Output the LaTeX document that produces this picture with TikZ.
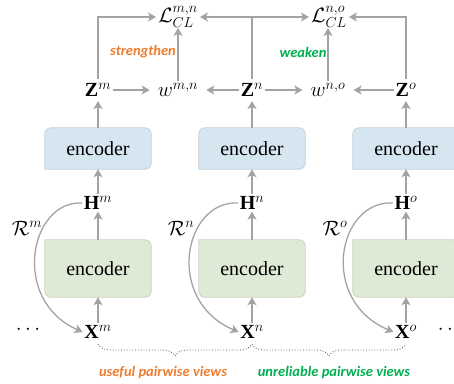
\documentclass[tikz,border=0pt]{standalone}
\usepackage{fontspec}
\setmainfont{Liberation Serif}
\newfontfamily\tagfont{Carlito}
\usetikzlibrary{arrows.meta,decorations.pathreplacing,calc}
\definecolor{linegray}{HTML}{A3A3A3}
\definecolor{bluefill}{HTML}{D6E6F1}
\definecolor{blueedge}{HTML}{C2D0DA}
\definecolor{greenfill}{HTML}{DEEAD5}
\definecolor{greenedge}{HTML}{C9D4BF}
\definecolor{tagorange}{HTML}{ED7D31}
\definecolor{taggreen}{HTML}{00B050}
\definecolor{bracegray}{HTML}{404040}
\begin{document}
\begin{tikzpicture}[x=1pt,y=-1pt,
  plain/.style={draw=linegray, line width=1.5pt},
  conn/.style={plain, -{Stealth[length=8pt,width=9pt,inset=2pt]}},
  mathtxt/.style={font=\fontsize{20}{24}\selectfont, inner sep=1.5pt},
  weight/.style={mathtxt, inner xsep=8pt},
  loss/.style={mathtxt, inner xsep=2pt, inner ysep=0.5pt},
  enc/.style={font=\fontsize{20}{24}\selectfont, minimum width=106pt, inner sep=0pt},
  upper/.style={enc, minimum height=41pt},
  lower/.style={enc, minimum height=57pt},
  tag/.style={font=\tagfont\bfseries\itshape\fontsize{14.5}{17}\selectfont},
  bracket/.style={draw=bracegray, line width=0.8pt, dotted, decorate,
    decoration={brace, amplitude=12pt, mirror}}]
\useasboundingbox (0,0) rectangle (454,383);

% encoder boxes (drawn first, text on top)
\node[upper] (em) at (98,148.5) {};
\node[upper] (en) at (252,148.5) {};
\node[upper] (eo) at (406,148.5) {};
\node[lower] (gm) at (98,268.5) {};
\node[lower] (gn) at (252,268.5) {};
\node[lower] (go) at (406,268.5) {};
\foreach \b in {em,en,eo}
  \filldraw[fill=bluefill, draw=blueedge, line width=0.8pt]
    (\b.south west) [rounded corners=6pt] -- (\b.north west) -- (\b.north east)
    -- (\b.south east) [sharp corners] -- cycle;
\foreach \b in {gm,gn,go}
  \filldraw[fill=greenfill, draw=greenedge, line width=0.8pt]
    (\b.north west) [rounded corners=6pt] -- (\b.south west) -- (\b.south east)
    -- (\b.north east) [sharp corners] -- cycle;
\foreach \b in {em,en,eo,gm,gn,go}
  \node[enc] (t\b) at (\b) {encoder};

% inputs, hidden and projected views
\node[mathtxt] (Xm) at (98,332) {$\mathbf{X}^m$};
\node[mathtxt] (Xn) at (252,332) {$\mathbf{X}^n$};
\node[mathtxt] (Xo) at (406,332) {$\mathbf{X}^o$};
\node[mathtxt] (Hm) at (98,203) {$\mathbf{H}^m$};
\node[mathtxt] (Hn) at (252,203) {$\mathbf{H}^n$};
\node[mathtxt] (Ho) at (406,203) {$\mathbf{H}^o$};
\node[mathtxt, inner ysep=4pt] (Zm) at (98,90) {$\mathbf{Z}^m$};
\node[mathtxt, inner ysep=4pt] (Zn) at (252,90) {$\mathbf{Z}^n$};
\node[mathtxt, inner ysep=4pt] (Zo) at (406,90) {$\mathbf{Z}^o$};
\node[weight] (wmn) at (178,90) {$w^{m,n}$};
\node[weight] (wno) at (328,90) {$w^{n,o}$};
\node[loss] (Lmn) at (178,17) {$\mathcal{L}_{CL}^{m,n}$};
\node[loss] (Lno) at (329,17) {$\mathcal{L}_{CL}^{n,o}$};

\node[mathtxt] (Rm) at (27,228) {$\mathcal{R}^m$};
\node[mathtxt] (Rn) at (181,228) {$\mathcal{R}^n$};
\node[mathtxt] (Ro) at (335,228) {$\mathcal{R}^o$};
\node[mathtxt] (dl) at (28,330) {$\cdots$};
\node[mathtxt] (dr) at (450,330) {$\cdots$};

% vertical flow
\foreach \c in {m,n,o} {
  \draw[conn] (X\c) -- (g\c.south);
  \draw[conn] (g\c.north) -- (H\c);
  \draw[conn] (H\c) -- (e\c.south);
  \draw[conn] (e\c.north) -- (Z\c);
}
% recovery curves
\draw[conn, line width=1.3pt] (Hm.west) .. controls (30,200) and (10,300) .. (Xm.west);
\draw[conn, line width=1.3pt] (Hn.west) .. controls (184,200) and (164,300) .. (Xn.west);
\draw[conn, line width=1.3pt] (Ho.west) .. controls (338,200) and (318,300) .. (Xo.west);

% pairwise weights
\draw[conn] (Zm) -- (wmn);
\draw[conn] (Zn) -- (wmn);
\draw[conn] (Zn) -- (wno);
\draw[conn] (Zo) -- (wno);
\draw[conn] (wmn.north) -- (wmn.north |- Lmn.south);
\draw[conn] (wno.north) -- (wno.north |- Lno.south);

% contrastive losses
\coordinate (split) at (Zn.north |- Lmn.east);
\draw[conn] (Zm.north) |- (Lmn.west);
\draw[plain] (Zn.north) -- (split);
\draw[conn] (split) -- (Lmn.east);
\draw[conn] (split) -- (Lno.west);
\draw[conn] (Zo.north) |- (Lno.east);

\node[tag, text=tagorange] (st) at (143,52) {strengthen};
\node[tag, text=taggreen] (wk) at (303,52) {weaken};

% pairwise view groups
\coordinate (b1) at (98,344);
\coordinate (b2) at (252,344);
\coordinate (b3) at (406,344);
\draw[bracket] (b1) -- (b2);
\draw[bracket] (b2) -- (b3);
\node[tag, text=tagorange] (useful) at (163,373) {useful pairwise views};
\node[tag, text=taggreen] (unrel) at (334,373) {unreliable pairwise views};
\end{tikzpicture}
\end{document}
